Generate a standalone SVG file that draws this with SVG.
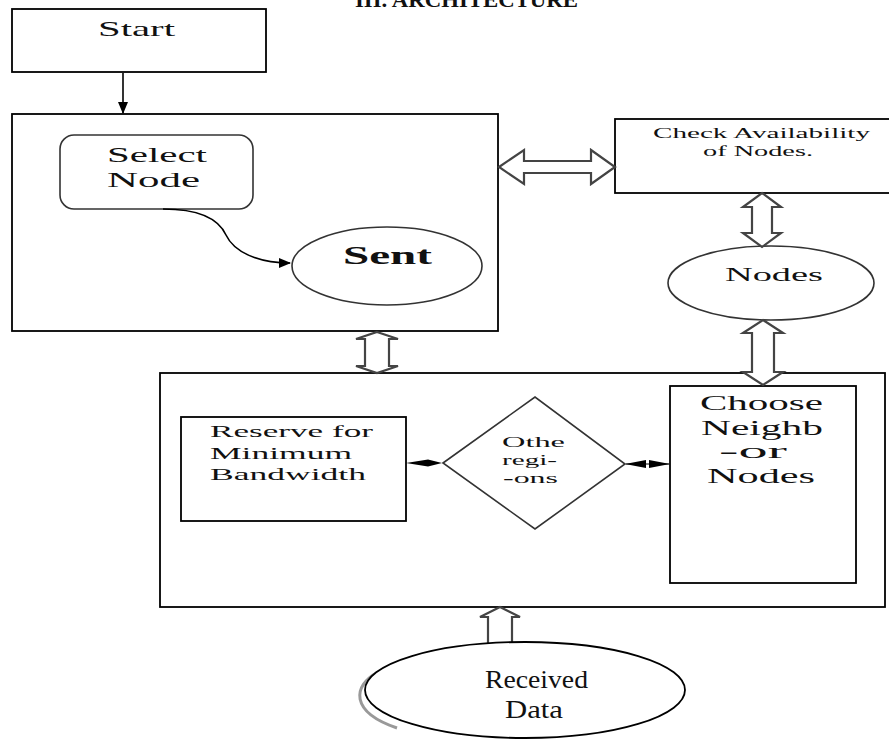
<svg xmlns="http://www.w3.org/2000/svg" width="889" height="739" viewBox="0 0 889 739">
<style>
  .box { fill: #fff; stroke: #000; stroke-width: 1.8; }
  .shape { fill: #fff; stroke: #333; stroke-width: 1.6; }
  .dbl { fill: #fff; stroke: #444; stroke-width: 2.2; stroke-linejoin: miter; }
  .t { font-family: "Liberation Serif", "DejaVu Serif", serif; fill: #111; }
  .line { fill: none; stroke: #000; stroke-width: 1.6; }
</style>
<defs>
  <marker id="tri" markerWidth="12" markerHeight="10" refX="11" refY="5" orient="auto" markerUnits="userSpaceOnUse">
    <path d="M0,0 L12,5 L0,10 Z" fill="#000"/>
  </marker>
</defs>

<text class="t" x="355" y="7" font-size="21" font-weight="bold" textLength="223" lengthAdjust="spacingAndGlyphs">III. ARCHITECTURE</text>

<g id="start">
  <rect class="box" x="12" y="9" width="254" height="63"/>
  <text class="t" x="98" y="36" font-size="21" textLength="77" lengthAdjust="spacingAndGlyphs">Start</text>
</g>

<g id="box1">
  <rect class="box" x="12" y="114" width="486" height="217"/>
</g>

<g id="select-node">
  <rect class="shape" x="60" y="135" width="193" height="74" rx="14" ry="14"/>
  <text class="t" x="107" y="162" font-size="22" textLength="100" lengthAdjust="spacingAndGlyphs">Select</text>
  <text class="t" x="107" y="187" font-size="22" textLength="93" lengthAdjust="spacingAndGlyphs">Node</text>
</g>

<g id="sent">
  <ellipse class="shape" cx="387" cy="266" rx="95" ry="39"/>
  <text class="t" x="343" y="264" font-size="25" font-weight="bold" textLength="89" lengthAdjust="spacingAndGlyphs">Sent</text>
</g>

<g id="check">
  <rect class="box" x="615" y="119" width="280" height="74"/>
  <text class="t" x="653" y="138" font-size="15" textLength="217" lengthAdjust="spacingAndGlyphs">Check Availability</text>
  <text class="t" x="703" y="156" font-size="15" textLength="110" lengthAdjust="spacingAndGlyphs">of Nodes.</text>
</g>

<g id="nodes">
  <ellipse class="shape" cx="771" cy="283" rx="103" ry="37"/>
  <text class="t" x="725" y="281" font-size="19" textLength="98" lengthAdjust="spacingAndGlyphs">Nodes</text>
</g>

<g id="box2">
  <rect class="box" x="160" y="373" width="725" height="234"/>
</g>

<g id="reserve">
  <rect class="box" x="181" y="417" width="225" height="104"/>
  <text class="t" x="210" y="437" font-size="17" textLength="163" lengthAdjust="spacingAndGlyphs">Reserve for</text>
  <text class="t" x="210" y="459" font-size="17" textLength="142" lengthAdjust="spacingAndGlyphs">Minimum</text>
  <text class="t" x="210" y="480" font-size="17" textLength="156" lengthAdjust="spacingAndGlyphs">Bandwidth</text>
</g>

<g id="other-regions">
  <polygon class="shape" points="443,463 535,397 625,464 535,529"/>
  <text class="t" x="502" y="447" font-size="15.5" textLength="63" lengthAdjust="spacingAndGlyphs">Othe</text>
  <text class="t" x="502" y="465" font-size="15.5" textLength="55" lengthAdjust="spacingAndGlyphs">regi-</text>
  <text class="t" x="503" y="483" font-size="15.5" textLength="55" lengthAdjust="spacingAndGlyphs">-ons</text>
</g>

<g id="choose">
  <rect class="box" x="670" y="386" width="186" height="197" stroke="#222" stroke-width="2.2"/>
  <text class="t" x="700" y="410" font-size="22" textLength="123" lengthAdjust="spacingAndGlyphs">Choose</text>
  <text class="t" x="701" y="435" font-size="22" textLength="122" lengthAdjust="spacingAndGlyphs">Neighb</text>
  <text class="t" x="719" y="458" font-size="22" textLength="68" lengthAdjust="spacingAndGlyphs">-or</text>
  <text class="t" x="707" y="483" font-size="22" textLength="108" lengthAdjust="spacingAndGlyphs">Nodes</text>
</g>

<g id="connectors">
  <line class="line" x1="123" y1="73" x2="123" y2="113" marker-end="url(#tri)"/>
  <path class="line" d="M163,209 C205,209 220,222 226,235 C234,252 258,263 290,263" marker-end="url(#tri)"/>
  <polygon class="dbl" points="499,167 524,150 524,161 591,161 591,150 615,167 591,184 591,173 524,173 524,184"/>
  <polygon class="dbl" points="762,193 781,207 772,207 772,233 781,233 762,247 743,233 752,233 752,207 743,207"/>
  <polygon class="dbl" points="377,332 398,339 389,339 389,366 398,366 377,373 356,366 365,366 365,339 356,339"/>
  <polygon class="dbl" points="763,320 783,333 774,333 774,372 783,372 763,385 743,372 752,372 752,333 743,333"/>
  <polygon class="dbl" points="500,607 520,617 512,617 512,650 488,650 488,617 480,617"/>
  <polygon points="406,463 428,459.5 442,463 428,466.5" fill="#000"/>
  <polygon points="625,464 646,460 646,468" fill="#000"/>
  <polygon points="670,464 649,460 649,468" fill="#000"/>
  <line x1="626" y1="464" x2="669" y2="464" stroke="#000" stroke-width="1"/>
</g>

<g id="received">
  <path d="M378,672 C352,686 350,712 397,728" fill="none" stroke="#999" stroke-width="3"/>
  <ellipse cx="525" cy="690" rx="160" ry="48" fill="#fff" stroke="#000" stroke-width="1.8"/>
  <text class="t" x="485" y="688" font-size="25" textLength="103" lengthAdjust="spacingAndGlyphs">Received</text>
  <text class="t" x="505" y="718" font-size="25" textLength="58" lengthAdjust="spacingAndGlyphs">Data</text>
</g>
</svg>
